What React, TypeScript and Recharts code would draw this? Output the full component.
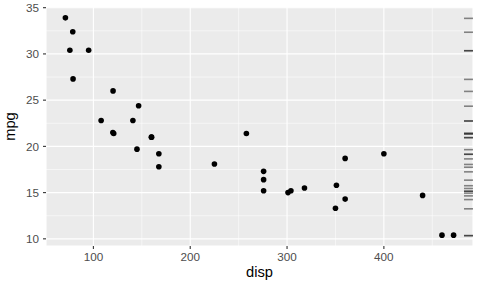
import React from 'react';
import { ScatterChart, Scatter, XAxis, YAxis, CartesianGrid, ReferenceLine } from 'recharts';

const disp = [160, 160, 108, 258, 360, 225, 360, 146.7, 140.8, 167.6, 167.6, 275.8, 275.8, 275.8, 472, 460, 440, 78.7, 75.7, 71.1, 120.1, 318, 304, 350, 400, 79, 120.3, 95.1, 351, 145, 301, 121];
const mpg = [21.0, 21.0, 22.8, 21.4, 18.7, 18.1, 14.3, 24.4, 22.8, 19.2, 17.8, 16.4, 17.3, 15.2, 10.4, 10.4, 14.7, 32.4, 30.4, 33.9, 21.5, 15.5, 15.2, 13.3, 19.2, 27.3, 26.0, 30.4, 15.8, 19.7, 15.0, 21.4];
const xTicks = [100, 200, 300, 400];
const yTicks = [10, 15, 20, 25, 30, 35];
const xMinor = [150, 250, 350, 450];
const yMinor = [12.5, 17.5, 22.5, 27.5, 32.5];

const xMin = Math.min(...disp);
const xMax = Math.max(...disp);
const yMin = Math.min(...mpg);
const yMax = Math.max(...mpg);
const xDomain: [number, number] = [xMin - 0.05 * (xMax - xMin), xMax + 0.05 * (xMax - xMin)];
const yDomain: [number, number] = [yMin - 0.05 * (yMax - yMin), yMax + 0.05 * (yMax - yMin)];

const points = disp.map((d, i) => ({ disp: d, mpg: mpg[i] }));
const rug = mpg.map((m) => ({ disp: xDomain[1], mpg: m }));

const Dot = (props: any) => <circle cx={props.cx} cy={props.cy} r={2.8} fill="#000" />;
const RugLine = (props: any) => (
  <line x1={props.cx - 9} x2={props.cx} y1={props.cy + 0.5} y2={props.cy + 0.5} stroke="#000" strokeWidth={1.6} strokeOpacity={0.45} />
);

const tickStyle = { fill: '#4D4D4D', fontSize: 11.7, fontFamily: 'Liberation Sans, Arial, sans-serif' };
const titleFont = 'Liberation Sans, Arial, sans-serif';

export default function App() {
  return (
    <div style={{ position: 'absolute', left: 0, top: 0 }}>
      <ScatterChart width={480} height={288} margin={{ top: 7, right: 7, bottom: 0, left: 0 }}>
        <CartesianGrid fill="#EBEBEB" fillOpacity={1} stroke="#FFFFFF" strokeWidth={1.1} />
        {xMinor.map((v) => (
          <ReferenceLine key={'x' + v} x={v} stroke="#FFFFFF" strokeWidth={0.55} />
        ))}
        {yMinor.map((v) => (
          <ReferenceLine key={'y' + v} y={v} stroke="#FFFFFF" strokeWidth={0.55} />
        ))}
        <XAxis
          type="number"
          dataKey="disp"
          domain={xDomain}
          ticks={xTicks}
          allowDataOverflow
          height={42}
          axisLine={false}
          tickSize={3}
          tickMargin={4}
          tickLine={{ stroke: '#333333', strokeWidth: 1.1 }}
          tick={tickStyle}
          label={(p: any) => {
            const vb = p.viewBox;
            return (
              <text x={vb.x + vb.width / 2} y={vb.y + 26} textAnchor="middle" dominantBaseline="central" fill="#000" fontSize={14.7} fontFamily={titleFont}>
                disp
              </text>
            );
          }}
        />
        <YAxis
          type="number"
          dataKey="mpg"
          domain={yDomain}
          ticks={yTicks}
          allowDataOverflow
          width={46}
          axisLine={false}
          tickSize={3}
          tickMargin={4}
          tickLine={{ stroke: '#333333', strokeWidth: 1.1 }}
          tick={tickStyle}
          label={(p: any) => {
            const vb = p.viewBox;
            const cx = vb.x + 10;
            const cy = vb.y + vb.height / 2;
            return (
              <text x={cx} y={cy} transform={`rotate(-90 ${cx} ${cy})`} textAnchor="middle" dominantBaseline="central" fill="#000" fontSize={14.7} fontFamily={titleFont}>
                mpg
              </text>
            );
          }}
        />
        <Scatter data={rug} shape={RugLine} isAnimationActive={false} />
        <Scatter data={points} shape={Dot} isAnimationActive={false} />
      </ScatterChart>
    </div>
  );
}
